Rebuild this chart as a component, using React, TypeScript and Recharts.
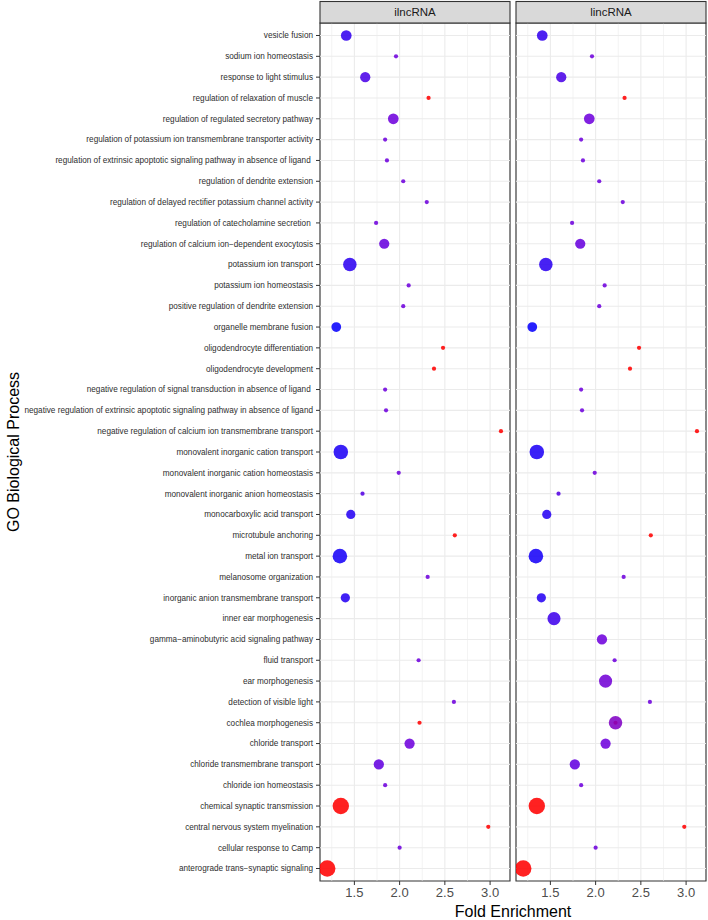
import React from "react";
import {
  ScatterChart,
  Scatter,
  XAxis,
  YAxis,
  ZAxis,
  CartesianGrid,
  ReferenceLine,
  ReferenceArea,
  Cell,
} from "recharts";

const FONT = "'Liberation Sans', Arial, sans-serif";

// GO terms, top to bottom
const terms = [
  "vesicle fusion",
  "sodium ion homeostasis",
  "response to light stimulus",
  "regulation of relaxation of muscle",
  "regulation of regulated secretory pathway",
  "regulation of potassium ion transmembrane transporter activity",
  "regulation of extrinsic apoptotic signaling pathway in absence of ligand ",
  "regulation of dendrite extension",
  "regulation of delayed rectifier potassium channel activity",
  "regulation of catecholamine secretion ",
  "regulation of calcium ion\u2212dependent exocytosis",
  "potassium ion transport",
  "potassium ion homeostasis",
  "positive regulation of dendrite extension",
  "organelle membrane fusion",
  "oligodendrocyte differentiation",
  "oligodendrocyte development",
  "negative regulation of signal transduction in absence of ligand ",
  "negative regulation of extrinsic apoptotic signaling pathway in absence of ligand",
  "negative regulation of calcium ion transmembrane transport",
  "monovalent inorganic cation transport",
  "monovalent inorganic cation homeostasis",
  "monovalent inorganic anion homeostasis",
  "monocarboxylic acid transport",
  "microtubule anchoring",
  "metal ion transport",
  "melanosome organization",
  "inorganic anion transmembrane transport",
  "inner ear morphogenesis",
  "gamma\u2212aminobutyric acid signaling pathway",
  "fluid transport",
  "ear morphogenesis",
  "detection of visible light",
  "cochlea morphogenesis",
  "chloride transport",
  "chloride transmembrane transport",
  "chloride ion homeostasis",
  "chemical synaptic transmission",
  "central nervous system myelination",
  "cellular response to Camp",
  "anterograde trans\u2212synaptic signaling",
];

// ilncRNA panel
const ilncFold = [
  1.41, 1.96, 1.62, 2.32, 1.93, 1.84, 1.86, 2.04, 2.3, 1.74, 1.83, 1.45, 2.1, 2.04,
  1.3, 2.48, 2.38, 1.84, 1.85, 3.12, 1.35, 1.99, 1.59, 1.46, 2.61, 1.34, 2.31, 1.4,
  null, null, 2.21, null, 2.6, 2.22, 2.11, 1.77, 1.84, 1.35, 2.98, 2.0, 1.2,
];
const ilncCount = [
  12, 2, 11, 2, 12, 2, 2, 2, 2, 2, 11, 19, 2, 2, 10, 2, 2, 2, 2, 2, 22, 2, 2, 9, 2,
  22, 2, 9, null, null, 2, null, 2, 2, 11, 11, 2, 28, 2, 2, 28,
];
// scaled adjusted p (0 = most significant, 1 = least)
const ilncP = [
  0.14, 0.3, 0.2, 1, 0.3, 0.3, 0.3, 0.3, 0.3, 0.3, 0.28, 0.12, 0.3, 0.3, 0.02, 1, 1,
  0.3, 0.3, 1, 0.08, 0.3, 0.23, 0.1, 1, 0.06, 0.3, 0.1, null, null, 0.3, null, 0.3,
  1, 0.3, 0.27, 0.3, 1, 1, 0.3, 1,
];

// lincRNA panel
const lincFold = [
  1.41, 1.96, 1.62, 2.32, 1.93, 1.84, 1.86, 2.04, 2.3, 1.74, 1.83, 1.45, 2.1, 2.04,
  1.3, 2.48, 2.38, 1.84, 1.85, 3.12, 1.35, 1.99, 1.59, 1.46, 2.61, 1.34, 2.31, 1.4,
  1.54, 2.07, 2.21, 2.11, 2.6, 2.22, 2.11, 1.77, 1.84, 1.35, 2.98, 2.0, 1.2,
];
const lincCount = [
  12, 2, 11, 2, 12, 2, 2, 2, 2, 2, 11, 19, 2, 2, 10, 2, 2, 2, 2, 2, 22, 2, 2, 9, 2,
  22, 2, 9, 18, 11, 2, 18, 2, 19, 11, 11, 2, 28, 2, 2, 28,
];
const lincP = [
  0.14, 0.3, 0.2, 1, 0.3, 0.3, 0.3, 0.3, 0.3, 0.3, 0.28, 0.12, 0.3, 0.3, 0.02, 1, 1,
  0.3, 0.3, 1, 0.08, 0.3, 0.23, 0.1, 1, 0.06, 0.3, 0.1, 0.17, 0.3, 0.3, 0.32, 0.3,
  0.38, 0.3, 0.27, 0.3, 1, 1, 0.3, 1,
];
// duplicated row hidden under the big cochlea point in lincRNA
const lincDupTerm = ["cochlea morphogenesis"];
const lincDupFold = [2.22];
const lincDupCount = [2];
const lincDupP = [1];

const xTicks = [1.5, 2.0, 2.5, 3.0];
const xMinor = [1.25, 1.75, 2.25, 2.75];
const xDomain = [1.12, 3.22];
const rowIdx = terms.map((_, i) => i);

type Pt = { idx: number; fold: number; count: number; p: number };

function build(fold: (number | null)[], count: (number | null)[], p: (number | null)[]): Pt[] {
  const out: Pt[] = [];
  fold.forEach((f, i) => {
    if (f != null) out.push({ idx: i, fold: f, count: count[i] as number, p: p[i] as number });
  });
  return out;
}

const ilncData = build(ilncFold, ilncCount, ilncP);
const lincData = build(lincFold, lincCount, lincP);
const lincDupData: Pt[] = lincDupTerm.map((t, i) => ({
  idx: terms.indexOf(t),
  fold: lincDupFold[i],
  count: lincDupCount[i],
  p: lincDupP[i],
}));

// blue -> violet -> red
function colorOf(t: number) {
  const stops = [
    [0, 0, 0, 255],
    [0.3, 110, 0, 220],
    [1, 255, 0, 0],
  ];
  let a = stops[0];
  let b = stops[1];
  if (t > 0.3) {
    a = stops[1];
    b = stops[2];
  }
  const k = (t - a[0]) / (b[0] - a[0]);
  const c = [1, 2, 3].map((j) => Math.round(a[j] + (b[j] - a[j]) * k));
  return `rgb(${c[0]},${c[1]},${c[2]})`;
}

const TermTick = (props: any) => {
  const { x, y, payload } = props;
  return (
    <text
      x={x}
      y={y}
      dy="0.35em"
      textAnchor="end"
      fontSize={8.2}
      fill="#2E2E2E"
      fontFamily={FONT}
      xmlSpace="preserve"
      style={{ whiteSpace: "pre" }}
    >
      {terms[payload.value]}
    </text>
  );
};

function Panel({
  data,
  extra,
  showY,
  left,
  width,
  margin,
}: {
  data: Pt[];
  extra?: Pt[];
  showY: boolean;
  left: number;
  width: number;
  margin: { top: number; right: number; bottom: number; left: number };
}) {
  return (
    <div style={{ position: "absolute", left, top: 0 }}>
      <ScatterChart width={width} height={920} margin={margin}>
        <CartesianGrid stroke="#EBEBEB" strokeWidth={1.1} horizontal={false} />
        {xMinor.map((v) => (
          <ReferenceLine key={`m-${v}`} x={v} stroke="#EBEBEB" strokeWidth={0.6} />
        ))}
        {rowIdx.map((i) => (
          <ReferenceLine key={`h-${i}`} y={i} stroke="#EBEBEB" strokeWidth={1.1} />
        ))}
        <XAxis
          type="number"
          dataKey="fold"
          domain={xDomain}
          ticks={xTicks}
          allowDataOverflow
          height={30}
          tickSize={4}
          tickMargin={3}
          axisLine={false}
          tickLine={{ stroke: "#333333" }}
          tickFormatter={(v: number) => v.toFixed(1)}
          tick={{ fontSize: 13, fill: "#4D4D4D", fontFamily: FONT }}
        />
        <YAxis
          type="number"
          dataKey="idx"
          domain={[-0.6, 40.6]}
          reversed
          allowDataOverflow
          ticks={rowIdx}
          interval={0}
          width={showY ? 320 : 0}
          tick={showY ? <TermTick /> : false}
          tickSize={showY ? 4 : 0}
          tickMargin={3}
          axisLine={false}
          tickLine={showY ? { stroke: "#333333" } : false}
        />
        <ZAxis type="number" dataKey="count" domain={[2, 30]} range={[13.9, 227]} />
        {extra && (
          <Scatter data={extra} isAnimationActive={false} fillOpacity={0.87}>
            {extra.map((d, i) => (
              <Cell key={`e-${i}`} fill={colorOf(d.p)} />
            ))}
          </Scatter>
        )}
        <Scatter data={data} isAnimationActive={false} fillOpacity={0.87}>
          {data.map((d, i) => (
            <Cell key={`c-${i}`} fill={colorOf(d.p)} />
          ))}
        </Scatter>
        <ReferenceArea
          x1={xDomain[0]}
          x2={xDomain[1]}
          y1={-0.6}
          y2={40.6}
          fill="none"
          stroke="#333333"
          strokeWidth={1.1}
          ifOverflow="visible"
        />
      </ScatterChart>
    </div>
  );
}

export default function App() {
  return (
    <div
      style={{
        position: "absolute",
        left: 0,
        top: 0,
        width: 708,
        height: 920,
        background: "#fff",
        fontFamily: FONT,
      }}
    >
      <Panel
        data={ilncData}
        showY
        left={0}
        width={512}
        margin={{ top: 23, right: 2, bottom: 9, left: 0 }}
      />
      <Panel
        data={lincData}
        extra={lincDupData}
        showY={false}
        left={512}
        width={196}
        margin={{ top: 23, right: 2, bottom: 9, left: 4 }}
      />
      <svg
        width={708}
        height={920}
        style={{ position: "absolute", left: 0, top: 0, pointerEvents: "none" }}
      >
        <rect x={320} y={1.5} width={190} height={21.5} fill="#D9D9D9" stroke="#333333" strokeWidth={1.1} />
        <text x={415} y={16} textAnchor="middle" fontSize={11.5} fill="#1A1A1A" fontFamily={FONT}>
          ilncRNA
        </text>
        <rect x={516} y={1.5} width={190} height={21.5} fill="#D9D9D9" stroke="#333333" strokeWidth={1.1} />
        <text x={611} y={16} textAnchor="middle" fontSize={11.5} fill="#1A1A1A" fontFamily={FONT}>
          lincRNA
        </text>
        <text x={513} y={917} textAnchor="middle" fontSize={16} fill="#000" fontFamily={FONT}>
          Fold Enrichment
        </text>
        <text
          x={0}
          y={0}
          transform="translate(18.5,452) rotate(-90)"
          textAnchor="middle"
          fontSize={16}
          fill="#000"
          fontFamily={FONT}
        >
          GO Biological Process
        </text>
      </svg>
    </div>
  );
}
